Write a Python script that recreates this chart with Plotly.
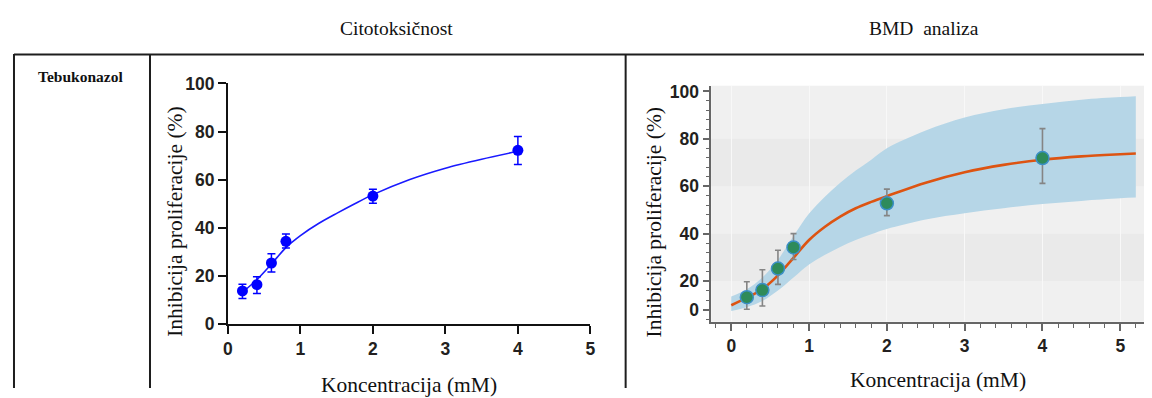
import plotly.graph_objects as go

W, H = 1144, 390
# observed placement of this figure in the photographed page: screen = c + k * figure_px
CX, KX = 12.9, 0.992
CY, KY = 16.84, 0.955

# ---- data ----
conc = [0.2, 0.4, 0.6, 0.8, 2.0, 4.0]

# Citotoksičnost (left)
inh_left = [13.8, 16.4, 25.4, 34.4, 53.2, 72.2]
err_left_up = [2.8, 3.3, 3.8, 3.0, 2.8, 5.8]
err_left_dn = [3.2, 3.7, 3.7, 2.8, 3.0, 5.9]
fit_left_x = [0.2, 0.4, 0.6, 0.8, 1.0, 1.25, 1.5, 1.75, 2.0, 2.5, 3.0, 3.5, 4.0]
fit_left_y = [13.2, 18.5, 25.0, 31.8, 36.8, 41.8, 46.0, 50.0, 53.8, 60.0, 64.8, 68.5, 71.8]

# BMD analiza (right)
inh_right = [13.2, 16.2, 25.3, 34.2, 52.8, 71.9]
err_right_up = [6.5, 8.6, 7.7, 5.8, 6.0, 12.4]
err_right_dn = [5.1, 6.7, 6.7, 5.1, 5.2, 10.7]
bmd_x = [0.0, 0.2, 0.4, 0.6, 0.8, 1.0, 1.2, 1.4, 1.6, 1.8, 2.0, 2.5, 3.0, 3.5, 4.0, 4.5, 5.0, 5.2]
bmd_fit = [9.8, 13.0, 16.6, 22.4, 29.8, 37.3, 42.8, 47.2, 50.7, 53.4, 55.8, 61.5, 65.9, 69.0, 71.2, 72.6, 73.5, 73.8]
bmd_up = [13.5, 16.5, 21.5, 29.0, 39.0, 48.5, 55.5, 61.5, 66.6, 71.2, 76.0, 83.5, 89.0, 92.5, 94.7, 96.5, 97.6, 98.0]
bmd_lo = [7.4, 9.0, 11.6, 16.0, 21.5, 27.0, 31.0, 34.4, 37.3, 39.8, 42.0, 46.0, 48.6, 50.7, 52.5, 53.8, 54.9, 55.2]

x_ticks = [0, 1, 2, 3, 4, 5]
left_yticks = [0, 20, 40, 60, 80, 100]
right_ytick_vals = [8, 20, 40, 60, 80, 100]
right_ytick_text = ["0", "20", "40", "60", "80", "100"]

col_headers = ["Citotoksičnost", "BMD  analiza"]
row_label = "Tebukonazol"
x_title = "Koncentracija (mM)"
y_title = "Inhibicija proliferacije (%)"


def px_x(s):
    f = (s - CX) / KX
    return min(max(f, 1.0), W) / W


def px_y(s):
    f = (s - CY) / KY
    return 1 - min(max(f, 0.0), H) / H


TICKFONT = dict(family="Liberation Sans", size=17.5, color="#231f20", weight="bold")
SERIF = "Liberation Serif"

fig = go.Figure()

# left: fit line
fig.add_trace(go.Scatter(x=fit_left_x, y=fit_left_y, mode="lines",
                         line=dict(color="#1a1aff", width=1.6, shape="spline", smoothing=0.8),
                         xaxis="x", yaxis="y", hoverinfo="skip", showlegend=False))
fig.add_trace(go.Scatter(x=conc, y=inh_left, mode="markers",
                         marker=dict(color="#0000ff", size=11),
                         error_y=dict(type="data", symmetric=False, array=err_left_up,
                                      arrayminus=err_left_dn, color="#0000ff", thickness=1.5, width=4),
                         xaxis="x", yaxis="y", showlegend=False))

# right: band
fig.add_trace(go.Scatter(x=bmd_x, y=bmd_lo, mode="lines", line=dict(width=0, shape="spline"),
                         xaxis="x2", yaxis="y2", hoverinfo="skip", showlegend=False))
fig.add_trace(go.Scatter(x=bmd_x, y=bmd_up, mode="lines", line=dict(width=0, shape="spline"),
                         fill="tonexty", fillcolor="#b6d6e7",
                         xaxis="x2", yaxis="y2", hoverinfo="skip", showlegend=False))
fig.add_trace(go.Scatter(x=bmd_x, y=bmd_fit, mode="lines",
                         line=dict(color="#dd5412", width=2.6, shape="spline"),
                         xaxis="x2", yaxis="y2", hoverinfo="skip", showlegend=False))
fig.add_trace(go.Scatter(x=conc, y=inh_right, mode="markers",
                         marker=dict(color="#2e8b5a", size=13, line=dict(color="#3b8fc6", width=1.5)),
                         error_y=dict(type="data", symmetric=False, array=err_right_up,
                                      arrayminus=err_right_dn, color="#858585", thickness=1.6, width=3),
                         xaxis="x2", yaxis="y2", showlegend=False))

# domains (reference pixel positions)
lx0, lx1 = px_x(228), px_x(590.7)
ly0, ly1 = px_y(325), px_y(82.7)
rx0, rx1 = px_x(711.7), 1.0
ry0, ry1 = px_y(322.7), px_y(85)
# right x range so that x=0 sits at 731.7 and x=5 at 1121 in the reference
rscale = (px_x(1121) - px_x(731.7)) / 5
r_xmin = -(px_x(731.7) - rx0) / rscale
r_xmax = (rx1 - px_x(731.7)) / rscale

fig.update_layout(
    width=W, height=H,
    margin=dict(l=0, r=0, t=0, b=0),
    showlegend=False,
    paper_bgcolor="white", plot_bgcolor="white",
    xaxis=dict(domain=[lx0, lx1], range=[0, 5], anchor="y",
               tickvals=x_ticks, ticks="outside", ticklen=8, tickwidth=2, tickcolor="#111",
               showline=True, linecolor="#111", linewidth=2, showgrid=False, zeroline=False,
               tickfont=TICKFONT),
    yaxis=dict(domain=[ly0, ly1], range=[0, 100], anchor="x",
               tickvals=left_yticks, ticks="outside", ticklen=8, tickwidth=2, tickcolor="#111",
               showline=True, linecolor="#111", linewidth=2, showgrid=False, zeroline=False,
               tickfont=TICKFONT),
    xaxis2=dict(domain=[rx0, rx1], range=[r_xmin, r_xmax], anchor="y2",
                tickvals=x_ticks, ticks="outside", ticklen=7, tickwidth=1.5, tickcolor="#666",
                minor=dict(tick0=0, dtick=0.2, ticks="outside", ticklen=4, tickcolor="#666", tickwidth=1.2),
                showline=True, linecolor="#666", linewidth=1.5,
                showgrid=True, gridcolor="#f8f8f8", gridwidth=1, zeroline=False,
                tickfont=TICKFONT),
    yaxis2=dict(domain=[ry0, ry1], range=[2.8, 102.4], anchor="x2",
                tickvals=right_ytick_vals, ticktext=right_ytick_text,
                ticks="outside", ticklen=7, tickwidth=1.5, tickcolor="#666",
                minor=dict(tick0=0, dtick=4, ticks="outside", ticklen=4, tickcolor="#666", tickwidth=1.2),
                showline=True, linecolor="#666", linewidth=1.5, showgrid=False, zeroline=False,
                tickfont=TICKFONT),
)

shapes = []
# right background + bands
shapes.append(dict(type="rect", xref="paper", yref="paper", x0=rx0, x1=rx1, y0=ry0, y1=ry1,
                   fillcolor="#f0f0f0", line=dict(width=0), layer="below"))
for b0, b1 in [(20, 40), (60, 80)]:
    shapes.append(dict(type="rect", xref="paper", yref="y2", x0=rx0, x1=rx1, y0=b0, y1=b1,
                       fillcolor="#eaeaea", line=dict(width=0), layer="below"))
# table lines
LC = "#1e1e1e"
shapes.append(dict(type="line", xref="paper", yref="paper", x0=px_x(8), x1=1.0,
                   y0=px_y(53.5), y1=px_y(53.5), line=dict(color=LC, width=2)))
for vx in [9, 150, 626]:
    shapes.append(dict(type="line", xref="paper", yref="paper", x0=px_x(vx), x1=px_x(vx),
                       y0=px_y(53), y1=0, line=dict(color=LC, width=2)))
fig.update_layout(shapes=shapes)


def label(xp, yp, text, size, angle=0):
    return dict(x=px_x(xp), y=px_y(yp), xref="paper", yref="paper", text=text,
                xanchor="center", yanchor="middle", textangle=angle, showarrow=False,
                font=dict(family=SERIF, size=size, color="#111"))


ann = [
    label(397, 27, col_headers[0], 19.5),
    label(925, 27, col_headers[1], 19.5),
    label(80, 76, "<b>" + row_label + "</b>", 15.5),
    label(409, 386, x_title, 21.5),
    label(175, 222, y_title, 21.5, -90),
    label(939, 381, x_title, 21.5),
    label(654, 223, y_title, 21.5, -90),
]
fig.update_layout(annotations=ann)

fig.write_html("out.html")
